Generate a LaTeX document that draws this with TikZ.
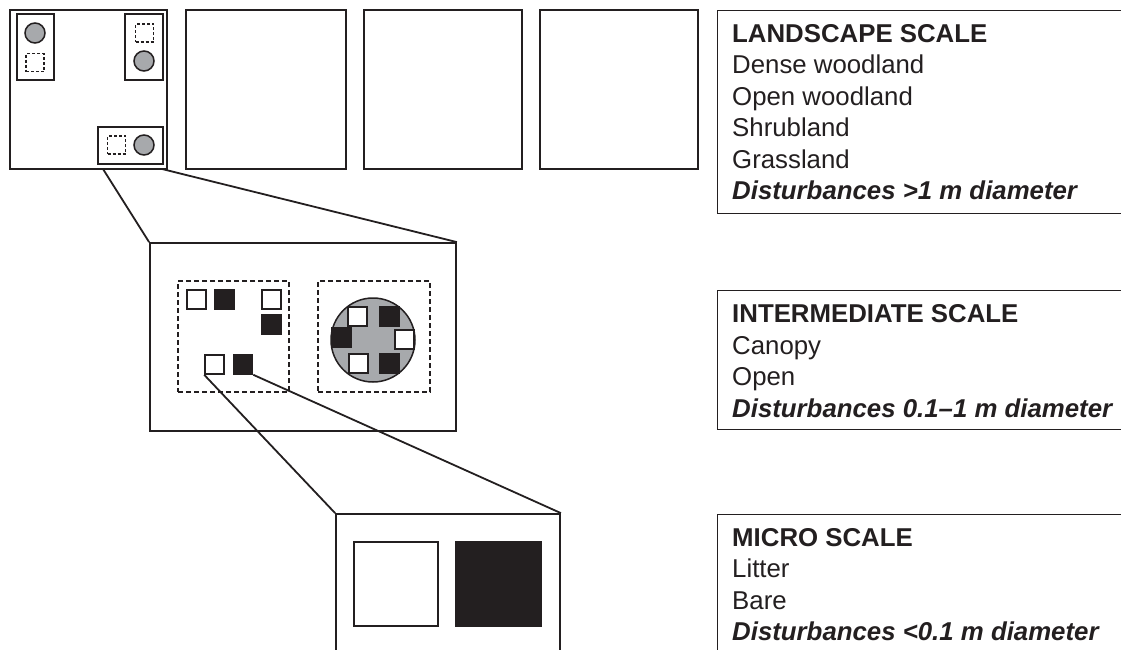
\documentclass[tikz,border=0pt]{standalone}
\usepackage{fontspec}
\setmainfont{Liberation Sans}
\definecolor{ink}{HTML}{231F20}
\definecolor{fillgray}{HTML}{A7A9AC}
\tikzset{
  frame/.style={draw=ink, line width=1.8pt, rectangle, inner sep=0pt, fill=white},
  sz/.style 2 args={minimum width=#1, minimum height=#2},
  dsq/.style={draw=ink, line width=1.3pt, dash pattern=on 3pt off 2pt, rectangle, inner sep=0pt, minimum size=18},
  dbox/.style={draw=ink, line width=1.5pt, dash pattern=on 5pt off 3pt, rectangle, inner sep=0pt},
  gcirc/.style={draw=ink, line width=1.5pt, fill=fillgray, circle, inner sep=0pt},
  osq/.style={draw=ink, line width=1.6pt, fill=white, rectangle, inner sep=0pt, minimum size=19},
  bsq/.style={draw=ink, line width=1.6pt, fill=ink, rectangle, inner sep=0pt, minimum size=19},
  link/.style={draw=ink, line width=1.8pt},
  txt/.style={anchor=base west, inner sep=0pt, text=ink, font=\fontsize{25.8}{30}\selectfont},
}
\begin{document}
\begin{tikzpicture}[x=1pt, y=-1pt]
\useasboundingbox (0,0) rectangle (1121,649);
\clip (0,0) rectangle (1121,649);
% connectors (drawn first)
\coordinate (l1a) at (103,169);
\coordinate (l1b) at (162,169);
\node[frame, sz={306}{188}] (mid) at (303,337) {};
\draw[link] (l1a) -- (mid.north west);
\draw[link] (l1b) -- (mid.north east);
% top row
\node[frame, sz={157}{159}] (sq1) at (88.5,89.5) {};
\node[frame, sz={160}{159}] (sq2) at (266,89.5) {};
\node[frame, sz={158}{159}] (sq3) at (443,89.5) {};
\node[frame, sz={158}{159}] (sq4) at (619,89.5) {};
\node[frame, sz={37}{66}] (ra) at (35.5,47) {};
\node[gcirc, minimum size=20] (ca) at (35,33) {};
\node[dsq] (da) at (35,62.5) {};
\node[frame, sz={38}{66}] (rb) at (144,47) {};
\node[dsq] (db) at (144.5,33) {};
\node[gcirc, minimum size=20] (cb) at (144,61) {};
\node[frame, sz={65}{37}] (rc) at (130.5,145.5) {};
\node[dsq] (dc) at (116.5,145) {};
\node[gcirc, minimum size=20] (cc) at (144,145) {};
% intermediate panel
\node[dbox, sz={111}{111}] (dl) at (233.5,336.5) {};
\node[dbox, sz={112}{111}] (dr) at (374,336.5) {};
\node[osq] (s1) at (196.5,299.5) {};
\node[bsq] (s2) at (224.5,299.5) {};
\node[osq] (s3) at (271.5,299.5) {};
\node[bsq] (s4) at (271.5,324.5) {};
\node[osq] (s5) at (214.5,364.5) {};
\node[bsq] (s6) at (243,364.5) {};
\node[gcirc, minimum size=84] (gc) at (373,340) {};
\node[osq] (c1) at (357.5,316.5) {};
\node[bsq] (c2) at (389.5,316.5) {};
\node[bsq] (c3) at (341.5,337.5) {};
\node[osq] (c4) at (404.5,339.5) {};
\node[osq] (c5) at (358.5,363.5) {};
\node[bsq] (c6) at (389.5,363.5) {};
% micro panel
\node[frame, sz={224}{186}] (mic) at (448,607) {};
\draw[link] (s5.south west) -- (mic.north west);
\draw[link] (s6.south east) -- (mic.north east);
\node[osq, minimum size=84] (mo) at (396,584) {};
\node[bsq, minimum size=85] (mb) at (498.5,584) {};
% text boxes
\node[frame, fill=none, line width=1.4pt, sz={500}{203}, anchor=north west] (tl) at (717,10) {};
\node[frame, fill=none, line width=1.4pt, sz={500}{139}, anchor=north west] (ti) at (717,290) {};
\node[frame, fill=none, line width=1.4pt, sz={500}{200}, anchor=north west] (tm) at (717,514) {};
\node[txt] (t1) at (732,42) {\bfseries LANDSCAPE SCALE};
\node[txt] (t2) at (732,73.5) {Dense woodland};
\node[txt] (t3) at (732,105) {Open woodland};
\node[txt] (t4) at (732,136.5) {Shrubland};
\node[txt] (t5) at (732,168) {Grassland};
\node[txt] (t6) at (732,199.5) {\bfseries\itshape Disturbances >1 m diameter};
\node[txt] (i1) at (732,322) {\bfseries INTERMEDIATE SCALE};
\node[txt] (i2) at (732,354) {Canopy};
\node[txt] (i3) at (732,385.5) {Open};
\node[txt] (i4) at (732,417) {\bfseries\itshape Disturbances 0.1--1 m diameter};
\node[txt] (m1) at (732,546) {\bfseries MICRO SCALE};
\node[txt] (m2) at (732,577.5) {Litter};
\node[txt] (m3) at (732,609) {Bare};
\node[txt] (m4) at (732,640.5) {\bfseries\itshape Disturbances <0.1 m diameter};
\end{tikzpicture}
\end{document}
